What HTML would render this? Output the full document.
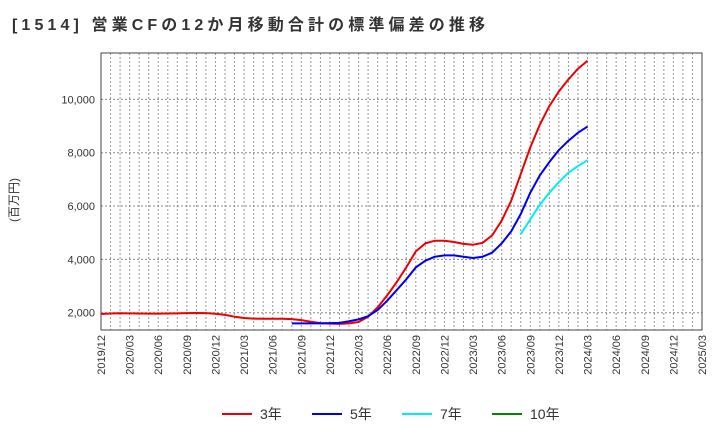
<!DOCTYPE html>
<html><head><meta charset="utf-8"><style>
body{margin:0;background:#fff;font-family:"Liberation Sans","Noto Sans CJK JP",sans-serif}
</style></head><body>
<svg id="c" width="720" height="440" xmlns="http://www.w3.org/2000/svg" font-family="'Liberation Sans','Noto Sans CJK JP',sans-serif">
<text x="12" y="30" font-size="16" font-weight="bold" fill="#333" textLength="473" lengthAdjust="spacing">[1514]  営業CFの12か月移動合計の標準偏差の推移</text>
<text transform="translate(18,200) rotate(-90)" text-anchor="middle" font-size="12" fill="#333">(百万円)</text>
<g id="grid"></g><g id="axes"></g><g id="series"></g><g id="legend"></g>
</svg>
<script>
const xTicks=["2019/12","2020/03","2020/06","2020/09","2020/12","2021/03","2021/06","2021/09","2021/12","2022/03","2022/06","2022/09","2022/12","2023/03","2023/06","2023/09","2023/12","2024/03","2024/06","2024/09","2024/12","2025/03"];
const yTicks=[2000,4000,6000,8000,10000];
const s3=[1950,1970,1980,1975,1970,1965,1965,1970,1975,1985,1990,1985,1960,1920,1850,1800,1780,1775,1775,1775,1760,1720,1660,1610,1590,1580,1600,1650,1850,2200,2650,3150,3700,4300,4600,4700,4700,4650,4580,4550,4620,4900,5450,6200,7200,8200,9050,9750,10300,10750,11150,11450];
const s3Start=0;
const s5=[1600,1600,1600,1600,1610,1620,1680,1750,1870,2100,2450,2850,3250,3700,3950,4100,4150,4150,4100,4050,4100,4250,4600,5050,5700,6500,7150,7650,8100,8450,8750,8980];
const s5Start=20;
const s7=[4950,5500,6050,6500,6900,7250,7500,7720];
const s7Start=44;
const s10=[];
const L=101,R=702,T=53,B=330,NM=63;
const X=m=>L+(R-L)*m/NM;
const Y=v=>312.7-(v-2000)*(53.33/2000);
const NS="http://www.w3.org/2000/svg";
function mk(t,a,p){const e=document.createElementNS(NS,t);for(const k in a)e.setAttribute(k,a[k]);p.appendChild(e);return e;}
const grid=document.getElementById('grid'),axes=document.getElementById('axes'),ser=document.getElementById('series'),leg=document.getElementById('legend');
for(let m=1;m<NM;m++){const l=mk('line',{x1:X(m),x2:X(m),y1:T,y2:B,stroke:'#999','stroke-dasharray':'2,2','stroke-width':1},grid);

}
yTicks.forEach(v=>{const l=mk('line',{x1:L,x2:R,y1:Y(v),y2:Y(v),stroke:'#888','stroke-dasharray':'2,2','stroke-width':1},grid);


const t=mk('text',{x:L-6,y:Y(v)+4,'text-anchor':'end','font-size':11,fill:'#333'},axes);t.textContent=v.toLocaleString('en-US');

});
xTicks.forEach((s,i)=>{const x=X(i*3);const t=mk('text',{transform:`translate(${x+4},${B+5}) rotate(-90)`,'text-anchor':'end','font-size':11,fill:'#333'},axes);t.textContent=s;

});
const fr=mk('rect',{x:L,y:T,width:R-L,height:B-T,fill:'none',stroke:'#444','stroke-width':1},axes);


function line(d,st,c,n){if(!d.length)return;const p=mk('polyline',{points:d.map((v,i)=>X(st+i)+','+Y(v)).join(' '),fill:'none',stroke:c,'stroke-width':2,'stroke-linejoin':'round'},ser);

}
line(s3,s3Start,'#ee0000','line-3y');
line(s5,s5Start,'#0000ee','line-5y');
line(s7,s7Start,'#00eeee','line-7y');
line(s10,0,'#008800','line-10y');
[["3年","#ee0000",222],["5年","#0000ee",312],["7年","#00eeee",402],["10年","#008800",492]].forEach(([n,c,x])=>{
const g=mk('g',{},leg);


mk('line',{x1:x,x2:x+30,y1:414,y2:414,stroke:c,'stroke-width':2},g);
const t=mk('text',{x:x+38,y:419,'font-size':14,fill:'#333'},g);t.textContent=n;});
</script>
</body></html>
